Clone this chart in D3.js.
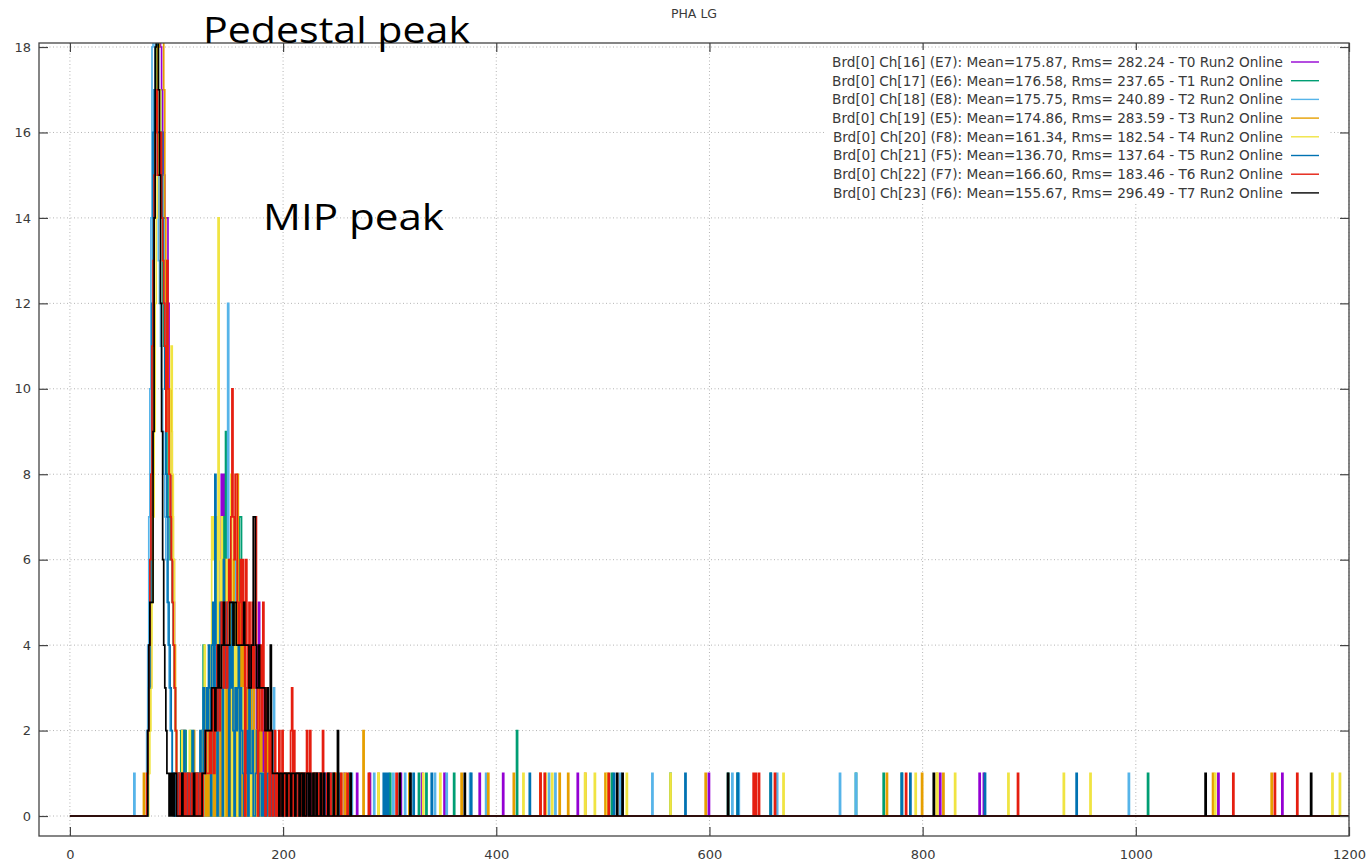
<!DOCTYPE html>
<html>
<head>
<meta charset="utf-8">
<script src="https://cdn.jsdelivr.net/npm/d3@7"></script>
<style>
  body { margin: 0; background: #fff; }
  svg { display: block; }
</style>
</head>
<body>
<svg id="chart" width="1369" height="864"></svg>
<script>
// PHA LG spectra, channels 16..23 of board 0 (Run2 online).
// Core histogram counts: one value per ADC bin, first bin = coreStart.
const coreStart = 70;

const coreT0 = [
  0,0,0,1,2,3,5,8,11,14,
  17,19,21,20,19,18,17,16,15,14,
  14,14,12,10,8,7,6,5,3,2,
  1,0,1,0,0,2,0,1,0,1,
  0,0,1,0,0,1,0,0,1,0,
  1,0,1,0,0,2,0,0,2,1,
  3,0,1,0,4,2,0,5,0,3,
  0,6,8,0,8,0,5,4,0,3,
  5,0,3,0,4,3,0,4,2,0,
  3,0,3,2,0,3,1,0,2,4,
  0,3,1,0,2,4,0,5,0,1,
  3,0,2,1,0,2,0,1,0,2,
  0,1,0,1,1,0,0,1,0,1,
  0,0,1,0,0,1,0,0,0,1,
  0,0,0,1,0,0,0,0,1,0,
  0,1,0,0,0,0,1,0,0,0,
  0,0,0,1,0,0,0,0,0,1,
  0,0,0,0,0,1,0,0,0,0
];
const coreT1 = [
  0,0,0,2,3,4,6,9,12,15,
  17,19,18,17,17,16,14,12,11,10,
  9,8,7,7,6,6,5,4,3,2,
  1,0,0,1,2,0,1,0,2,0,
  1,0,0,2,0,1,0,0,1,0,
  0,1,0,0,2,4,0,2,0,3,
  0,2,3,0,1,0,4,0,5,3,
  0,5,0,6,7,0,9,0,6,0,
  5,0,5,4,0,0,4,3,0,7,
  7,0,3,0,2,3,0,2,0,1,
  2,0,2,1,0,1,3,0,2,0,
  1,0,1,1,0,1,0,2,0,0,
  1,0,1,0,0,1,0,0,1,0,
  0,1,0,0,1,0,0,0,0,1,
  0,0,1,0,0,0,0,1,0,0,
  0,0,0,1,0,0,0,0,0,1,
  0,0,0,0,0,0,1,0,0,0,
  0,0,0,1,0,0,0,0,0,0
];
const coreT2 = [
  0,0,2,4,7,10,14,18,20,19,
  17,16,15,13,12,11,10,9,8,7,
  6,5,4,3,2,2,1,1,0,0,
  1,0,0,1,1,0,2,0,0,1,
  0,0,1,0,1,0,0,1,0,0,
  1,0,0,0,1,2,0,1,0,1,
  2,0,2,0,4,0,2,5,0,4,
  0,6,0,5,3,0,5,0,12,0,
  4,0,5,0,4,6,0,2,0,3,
  0,3,2,0,3,0,1,2,0,2,
  3,0,2,0,0,2,1,0,2,0,
  1,0,0,2,1,0,1,0,0,1,
  0,3,0,1,0,0,1,0,1,0,
  0,1,0,0,0,1,0,1,0,0,
  0,0,1,0,0,0,1,0,0,0,
  1,0,0,0,1,0,0,0,0,1,
  0,0,1,0,0,0,0,0,1,0,
  0,0,0,0,0,0,1,0,0,0
];
const coreT3 = [
  0,0,0,1,2,4,5,8,11,14,
  16,17,18,18,19,20,21,19,17,14,
  12,11,10,10,10,9,7,6,4,2,
  1,0,1,0,0,1,0,2,0,1,
  0,1,0,0,1,0,2,0,0,1,
  0,0,0,1,0,1,2,0,1,0,
  2,0,2,3,0,2,0,3,0,3,
  4,0,5,0,3,6,0,5,0,4,
  6,0,4,6,0,4,0,8,5,0,
  5,0,4,0,3,2,0,3,0,3,
  0,2,3,0,2,0,2,3,0,2,
  1,0,1,0,1,2,0,1,0,0,
  1,0,1,1,0,0,1,0,0,1,
  0,1,0,0,1,0,0,0,1,0,
  0,0,0,1,0,0,0,1,0,0,
  0,1,0,0,0,0,0,0,1,0,
  0,0,0,0,0,1,0,0,0,0,
  0,0,1,0,0,0,0,0,0,1
];
const coreT4 = [
  0,0,0,0,1,2,3,5,7,9,
  12,14,15,16,17,16,15,13,12,11,
  11,10,9,8,10,11,8,6,3,2,
  1,0,0,1,0,2,0,1,0,0,
  1,0,2,0,0,1,0,1,0,0,
  0,1,0,1,2,1,4,2,1,3,
  2,4,0,7,6,7,5,7,0,14,
  6,5,7,4,0,5,4,6,3,5,
  4,8,0,3,5,2,4,0,2,3,
  1,2,3,0,2,1,2,1,1,0,
  2,1,0,1,2,0,1,0,1,0,
  1,0,1,0,1,0,0,1,0,0,
  0,1,0,0,0,1,0,0,0,0,
  1,0,0,1,0,0,0,0,0,1,
  0,0,0,0,0,1,0,0,0,0,
  0,0,0,1,0,0,0,0,0,0,
  0,1,0,0,0,0,0,0,0,0,
  0,0,0,0,0,0,0,1,0,0
];
const coreT5 = [
  0,0,0,2,3,5,8,12,16,17,
  17,17,16,16,16,15,16,14,12,10,
  8,7,5,4,3,2,1,1,0,0,
  1,0,1,1,0,1,0,2,1,0,
  1,0,1,0,0,2,0,1,0,1,
  0,1,2,1,0,3,2,1,3,2,
  4,3,0,4,5,3,8,4,0,3,
  4,5,3,0,6,4,3,5,4,0,
  4,3,5,2,0,3,2,3,4,0,
  3,2,1,0,2,1,2,0,3,1,
  1,2,0,0,1,2,1,0,1,1,
  0,1,0,1,0,1,1,0,0,1,
  0,0,1,0,0,1,0,1,0,0,
  1,0,1,0,0,0,1,0,0,0,
  0,1,0,0,1,0,0,0,0,0,
  0,0,1,0,1,0,0,0,0,0,
  1,0,0,1,0,0,0,0,0,0,
  0,0,0,0,0,0,0,0,0,0
];
const coreT6 = [
  0,0,1,2,4,6,8,11,13,15,
  16,17,15,15,15,16,14,13,12,11,
  9,13,10,8,7,6,5,4,3,2,
  1,0,0,1,0,0,1,0,1,0,
  0,1,0,0,1,0,0,1,0,1,
  0,0,1,0,0,1,1,2,1,1,
  1,2,1,2,3,1,3,2,4,3,
  2,3,5,4,3,5,4,3,5,6,
  5,7,10,7,6,8,8,5,4,5,
  6,4,6,5,0,6,4,3,5,4,
  3,5,3,4,7,3,0,2,3,4,
  2,5,3,0,3,2,2,0,2,1,
  0,1,2,0,1,0,2,0,1,2,
  1,0,1,1,0,1,0,2,3,0,
  2,1,0,0,1,1,0,1,1,0,
  1,0,2,1,0,2,0,0,0,1,
  1,0,1,0,1,0,0,2,0,0,
  0,1,0,0,1,0,0,0,1,0
];
const coreT7 = [
  0,0,0,2,4,5,5,5,9,14,
  18,20,19,17,15,12,9,6,4,3,
  2,1,1,0,1,0,1,0,1,1,
  0,0,0,0,0,1,0,0,0,0,
  0,0,0,0,0,0,1,0,0,0,
  0,0,0,0,1,1,1,2,2,2,
  2,2,2,3,3,3,2,3,3,4,
  3,3,4,4,5,4,4,4,4,4,
  5,5,5,4,5,5,4,4,4,4,
  4,4,4,5,4,4,4,4,3,3,
  4,4,7,7,4,3,3,4,3,3,
  3,3,3,2,2,3,2,2,4,2,
  1,1,1,1,1,1,0,1,1,0,
  1,1,1,0,1,1,1,0,1,1,
  1,0,1,1,1,0,1,1,0,1,
  0,0,1,1,0,1,0,0,1,0,
  0,1,0,0,0,1,0,0,1,0,
  0,0,1,0,0,0,0,1,0,0
];

// Single events outside the core range (a repeated value counts twice).
const eventsT0 = [257, 269, 281, 310, 330, 351, 384, 406, 476, 599, 816, 853, 857, 1077, 1137];
const eventsT1 = [262, 300, 327, 334, 360, 419, 419, 508, 563, 617, 626, 657, 737, 763, 780, 1011];
const eventsT2 = [60, 264, 285, 303, 314, 342, 353, 375, 390, 449, 455, 516, 546, 621, 627, 663, 722, 737, 993];
const eventsT3 = [69, 258, 275, 275, 289, 318, 367, 392, 416, 441, 459, 467, 483, 502, 596, 766, 799, 813, 819, 1072, 1127];
const eventsT4 = [255, 289, 331, 347, 425, 446, 452, 483, 492, 504, 522, 563, 669, 793, 813, 830, 880, 932, 957, 1074, 1184, 1191];
const eventsT5 = [252, 294, 296, 298, 322, 339, 376, 431, 510, 577, 626, 657, 780, 788, 858, 944];
const eventsT6 = [254, 260, 280, 306, 441, 445, 505, 641, 643, 646, 661, 784, 889, 1091, 1130, 1151];
const eventsT7 = [251, 251, 263, 309, 319, 370, 513, 518, 617, 810, 1065, 1164];

const seriesLabels = [
  "Brd[0] Ch[16] (E7): Mean=175.87, Rms= 282.24 - T0 Run2 Online",
  "Brd[0] Ch[17] (E6): Mean=176.58, Rms= 237.65 - T1 Run2 Online",
  "Brd[0] Ch[18] (E8): Mean=175.75, Rms= 240.89 - T2 Run2 Online",
  "Brd[0] Ch[19] (E5): Mean=174.86, Rms= 283.59 - T3 Run2 Online",
  "Brd[0] Ch[20] (F8): Mean=161.34, Rms= 182.54 - T4 Run2 Online",
  "Brd[0] Ch[21] (F5): Mean=136.70, Rms= 137.64 - T5 Run2 Online",
  "Brd[0] Ch[22] (F7): Mean=166.60, Rms= 183.46 - T6 Run2 Online",
  "Brd[0] Ch[23] (F6): Mean=155.67, Rms= 296.49 - T7 Run2 Online"
];
const seriesColors = ["#9400d3", "#009e73", "#56b4e9", "#e69f00", "#f0e442", "#0072b2", "#e51e10", "#000000"];
const coreCounts = [coreT0, coreT1, coreT2, coreT3, coreT4, coreT5, coreT6, coreT7];
const extraEvents = [eventsT0, eventsT1, eventsT2, eventsT3, eventsT4, eventsT5, eventsT6, eventsT7];

const xTicks = [0, 200, 400, 600, 800, 1000, 1200];
const yTicks = [0, 2, 4, 6, 8, 10, 12, 14, 16, 18];
const maxBin = 1200;
const chartTitle = "PHA LG";

// ---- layout ----
const svg = d3.select("#chart");
const frame = { left: 39, right: 1349, top: 43, bottom: 836 };
const x = d3.scaleLinear().domain([-29, 1200]).range([frame.left, frame.right]);
const y = d3.scaleLinear().domain([-0.468, 18.094]).range([frame.bottom, frame.top]);
const font = "'DejaVu Sans', Verdana, sans-serif";
const textColor = "#3a3a3a";

svg.append("rect").attr("width", 1369).attr("height", 864).attr("fill", "#fff");

// title
svg.append("text")
  .attr("x", 694).attr("y", 18)
  .attr("text-anchor", "middle")
  .attr("font-family", font).attr("font-size", 12.5)
  .attr("fill", textColor)
  .text(chartTitle);

// dotted grid
const grid = svg.append("g").attr("stroke", "#b4b4b4").attr("stroke-width", 1).attr("stroke-dasharray", "1,2.5");
grid.selectAll("line.gx").data(xTicks).join("line")
  .attr("x1", d => x(d)).attr("x2", d => x(d))
  .attr("y1", frame.top).attr("y2", frame.bottom);
grid.selectAll("line.gy").data(yTicks).join("line")
  .attr("x1", frame.left).attr("x2", frame.right)
  .attr("y1", d => y(d)).attr("y2", d => y(d));

// histograms drawn as step outlines, clipped to the frame
svg.append("clipPath").attr("id", "plotClip")
  .append("rect")
  .attr("x", frame.left).attr("y", frame.top)
  .attr("width", frame.right - frame.left).attr("height", frame.bottom - frame.top);

const stepLine = d3.line()
  .x(d => x(d[0]))
  .y(d => y(d[1]))
  .curve(d3.curveStepAfter);

const plot = svg.append("g").attr("clip-path", "url(#plotClip)");
coreCounts.forEach((core, s) => {
  const hist = new Array(maxBin + 1).fill(0);
  core.forEach((c, i) => { hist[coreStart + i] += c; });
  extraEvents[s].forEach(v => { hist[v] += 1; });
  const pts = hist.map((c, i) => [i, c]);
  plot.append("path")
    .attr("d", stepLine(pts))
    .attr("fill", "none")
    .attr("stroke", seriesColors[s])
    .attr("stroke-width", 1.7)
    .attr("stroke-linejoin", "miter");
});

// axes with inward ticks, mirrored on top and right
const tickLen = 9;
function styleAxis(g) {
  g.select(".domain").remove();
  g.selectAll(".tick line").attr("stroke", "#444").attr("stroke-width", 1.2);
  g.selectAll(".tick text").attr("fill", textColor).attr("font-family", font).attr("font-size", 13);
}
svg.append("g").attr("transform", `translate(${frame.left},0)`)
  .call(d3.axisLeft(y).tickValues(yTicks).tickSize(-tickLen).tickPadding(8).tickFormat(d3.format("d")))
  .call(styleAxis);
svg.append("g").attr("transform", `translate(0,${frame.bottom})`)
  .call(d3.axisBottom(x).tickValues(xTicks).tickSize(-tickLen).tickPadding(14).tickFormat(d3.format("d")))
  .call(styleAxis);
svg.append("g").attr("transform", `translate(${frame.right},0)`)
  .call(d3.axisRight(y).tickValues(yTicks).tickSize(-tickLen).tickFormat(""))
  .call(styleAxis);
svg.append("g").attr("transform", `translate(0,${frame.top})`)
  .call(d3.axisTop(x).tickValues(xTicks).tickSize(-tickLen).tickFormat(""))
  .call(styleAxis);

// frame
svg.append("rect")
  .attr("x", frame.left).attr("y", frame.top)
  .attr("width", frame.right - frame.left).attr("height", frame.bottom - frame.top)
  .attr("fill", "none").attr("stroke", "#444").attr("stroke-width", 1.3);

// legend (opaque box)
const legend = svg.append("g");
legend.append("rect")
  .attr("x", 826).attr("y", 50).attr("width", 504).attr("height", 153)
  .attr("fill", "#fff");
seriesLabels.forEach((label, i) => {
  const ry = 62 + i * 18.7;
  legend.append("text")
    .attr("x", 1283).attr("y", ry).attr("dy", "0.36em")
    .attr("text-anchor", "end")
    .attr("font-family", font).attr("font-size", 13.65)
    .attr("fill", textColor)
    .text(label);
  legend.append("line")
    .attr("x1", 1291).attr("x2", 1319)
    .attr("y1", ry).attr("y2", ry)
    .attr("stroke", seriesColors[i]).attr("stroke-width", 1.4);
});

// peak annotations
svg.append("text")
  .attr("x", 203).attr("y", 43)
  .attr("font-family", "'Open Sans', sans-serif").attr("font-size", 36)
  .attr("textLength", 267).attr("lengthAdjust", "spacingAndGlyphs")
  .attr("fill", "#000")
  .text("Pedestal peak");
svg.append("text")
  .attr("x", 263).attr("y", 230)
  .attr("font-family", "'Open Sans', sans-serif").attr("font-size", 36)
  .attr("textLength", 181).attr("lengthAdjust", "spacingAndGlyphs")
  .attr("fill", "#000")
  .text("MIP peak");
</script>
</body>
</html>
